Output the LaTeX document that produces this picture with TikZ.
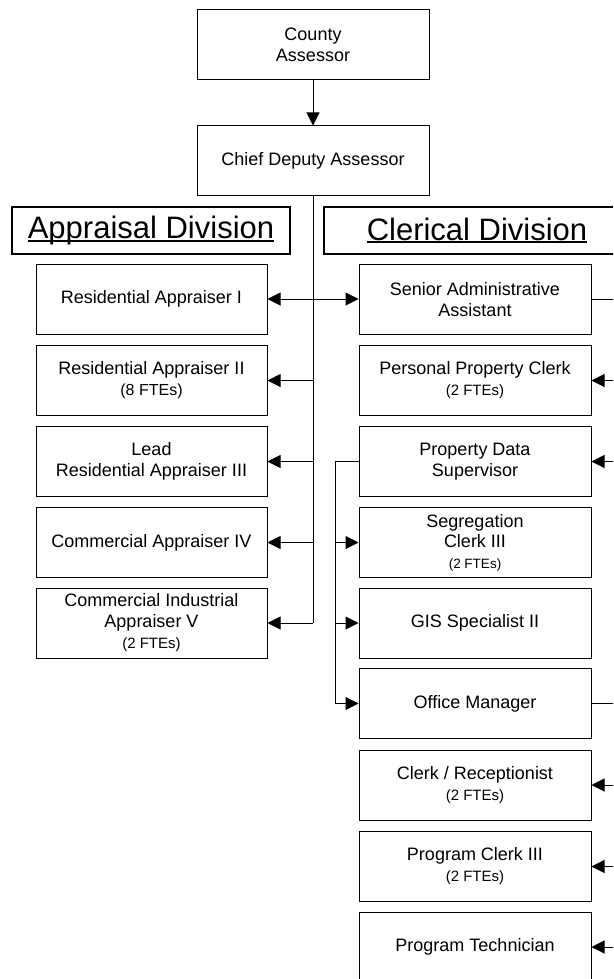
\documentclass[tikz,border=0pt]{standalone}
\usepackage{fontspec}
\setmainfont{Liberation Sans}
\usetikzlibrary{arrows.meta}

% underlined division heading (rule sits just under the baseline)
\newcommand\divtitle[1]{\setbox0\hbox{#1}\rlap{\rule[-3pt]{\wd0}{1.8pt}}\box0}
% smaller staffing note under a post title (optional size, default 15pt)
\newcommand\fte[2][15]{{\fontsize{#1}{18}\selectfont #2}}

\tikzset{
  post/.style={draw=black, line width=1pt, minimum width=232pt, minimum height=70pt,
    inner sep=2pt, align=center, font=\fontsize{18}{21}\selectfont},
  divhead/.style={draw=black, line width=1.3pt, minimum height=47pt, inner sep=0pt,
    font=\fontsize{31}{36}\selectfont},
  link/.style={draw=black, line width=1pt},
  tip/.style={-{Triangle[length=13pt,width=13pt]}},
  bitip/.style={{Triangle[length=13pt,width=13pt]}-{Triangle[length=13pt,width=13pt]}},
}

\begin{document}
\begin{tikzpicture}[x=1pt,y=-1pt]
\useasboundingbox (0,0) rectangle (613,979);
\clip (0,0) rectangle (613,979);

% top of the office
\node[post] (county) at (313,45) {County\\Assessor};
\node[post, minimum height=69pt] (chief) at (313,160.5) {Chief Deputy Assessor};

% division headings
\node[divhead, minimum width=278pt] (apphead) at (151,230.5) {\divtitle{Appraisal Division}};
\node[divhead, minimum width=306pt] (clerhead) at (477,230.5) {\divtitle{Clerical Division}};

% appraisal division
\begin{scope}[every node/.style={post, minimum width=231pt}]
\node (ra1) at (151.5,299)   {Residential Appraiser I};
\node (ra2) at (151.5,380.5) {Residential Appraiser II\\\fte[16]{(8 FTEs)}};
\node (ra3) at (151.5,461.5) {Lead\\Residential Appraiser III};
\node (ca4) at (151.5,542.5) {Commercial Appraiser IV};
\node (ci5) at (151.5,623)   {Commercial Industrial\\Appraiser V\\\fte{(2 FTEs)}};
\end{scope}

% clerical division
\begin{scope}[every node/.style={post}]
\node (saa) at (475,299.5) {Senior Administrative\\Assistant};
\node (ppc) at (475,380.5) {Personal Property Clerk\\\fte{(2 FTEs)}};
\node (pds) at (475,461.5) {Property Data\\Supervisor};
\node[font=\fontsize{18}{20.5}\selectfont] (sc) at (475,542.5) {Segregation\\Clerk III\\\fte[13.5]{(2 FTEs)}};
\node (gis) at (475,623)   {GIS Specialist II};
\node (om)  at (475,703.5) {Office Manager};
\node (cr)  at (475,785)   {Clerk / Receptionist\\\fte{(2 FTEs)}};
\node (pc)  at (475,866.5) {Program Clerk III\\\fte{(2 FTEs)}};
\node (pt)  at (475,947)   {Program Technician};
\end{scope}

% reporting lines
\draw[link,tip] (county) -- (chief);
\draw[link] (chief.south) -- (chief.south |- ci5.east);
\draw[link,bitip] (ra1.east) -- (ra1.east -| saa.west);
\foreach \b in {ra2,ra3,ca4,ci5}
  \draw[link,tip] (chief.south |- \b.east) -- (\b.east);

% property data supervisor branch
\path (pds.west) ++(-23,0) coordinate (pdsx);
\draw[link,tip] (pds.west) -- (pdsx) |- (om.west);
\foreach \b in {sc,gis}
  \draw[link,tip] (pdsx |- \b.west) -- (\b.west);

% senior administrative assistant branch
\path (saa.east) ++(34,0) coordinate (rt1);
\draw[link] (saa.east) -- (rt1) -- (rt1 |- pds.east);
\foreach \b in {ppc,pds}
  \draw[link,tip] (rt1 |- \b.east) -- (\b.east);

% office manager branch
\path (om.east) ++(34,0) coordinate (rt2);
\draw[link] (om.east) -- (rt2) -- (rt2 |- pt.east);
\foreach \b in {cr,pc,pt}
  \draw[link,tip] (rt2 |- \b.east) -- (\b.east);
\end{tikzpicture}
\end{document}
